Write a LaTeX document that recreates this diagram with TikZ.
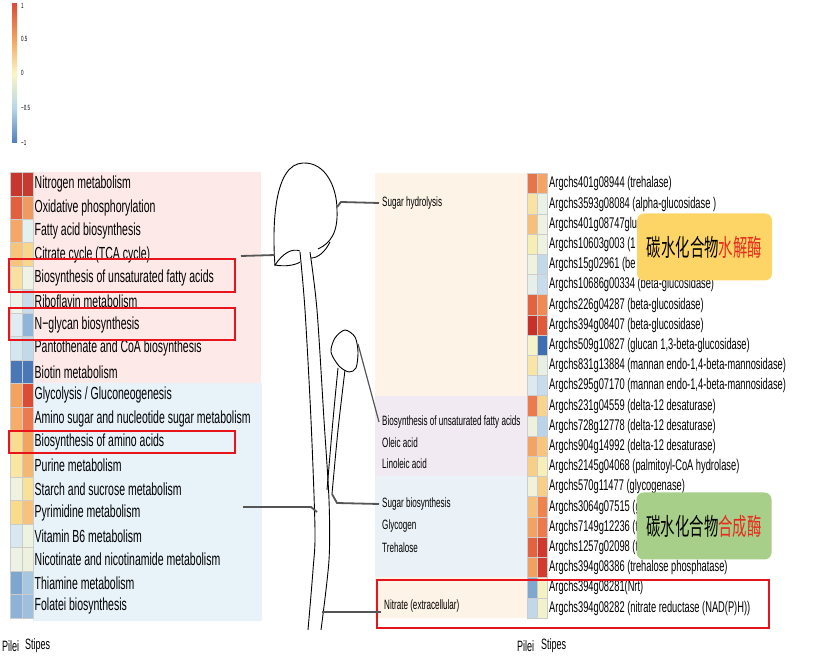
\documentclass[tikz,border=0pt]{standalone}
\usepackage{fontspec}
\setmainfont{Liberation Sans}[FakeStretch=0.6]
\newfontfamily\cjk{Noto Sans CJK SC}[FakeStretch=0.6]
\usetikzlibrary{calc}
\definecolor{bgpink}{HTML}{FDE9E8}
\definecolor{bgblue}{HTML}{E7F2F9}
\definecolor{bgpeach}{HTML}{FDF3E6}
\definecolor{bglav}{HTML}{F1EAF2}
\definecolor{bgsky}{HTML}{EAF2F7}
\definecolor{boxred}{HTML}{E8141C}
\definecolor{calred}{HTML}{E8291C}
\definecolor{calyel}{HTML}{FDD567}
\definecolor{calgrn}{HTML}{A8CF8A}
\definecolor{linkgray}{HTML}{555555}
\definecolor{lgA}{HTML}{4F7FBA}
\definecolor{lgB}{HTML}{B8D6E8}
\definecolor{lgC}{HTML}{FBF6C4}
\definecolor{lgD}{HTML}{F2A360}
\definecolor{lgE}{HTML}{D94C3C}
\pgfdeclareverticalshading{legbar}{100bp}{color(0bp)=(lgA); color(25bp)=(lgA); color(37.5bp)=(lgB); color(50bp)=(lgC); color(62.5bp)=(lgD); color(75bp)=(lgE); color(100bp)=(lgE)}
\tikzset{
  cell/.style={draw=black!20,line width=0.4pt},
  lablft/.style={anchor=west,inner sep=0pt,font=\fontsize{17.5}{17.5}\selectfont},
  labrgt/.style={anchor=west,inner sep=0pt,font=\fontsize{15.5}{15.5}\selectfont},
  pathlab/.style={anchor=west,inner sep=3pt,font=\fontsize{13.5}{13.5}\selectfont},
  ticklab/.style={anchor=west,inner sep=0pt,font=\fontsize{7.5}{7.5}\selectfont},
  collab/.style={anchor=west,inner sep=0pt,font=\fontsize{15}{15}\selectfont},
  redbox/.style={draw=boxred,line width=2.5pt},
  link/.style={draw=linkgray,line width=1.8pt},
  shroom/.style={draw=black,line width=0.9pt},
  callout/.style={rounded corners=7pt,minimum width=135pt,minimum height=67pt,inner sep=0pt,font=\cjk\fontsize{24}{24}\selectfont}
}
\begin{document}
\begin{tikzpicture}[x=1pt,y=-1pt]
            \useasboundingbox (0,0) rectangle (815,660);
            % colour key
            \shade[shading=legbar] (12,4) rectangle (17,143);
            \foreach \v/\yy [count=\k] in {1/6,0.5/39,0/73,−0.5/108,−1/143}
              \node[ticklab] (tk\k) at (21,\yy) {\v};
            % pathway panel
            \fill[bgpink] (33,172.3) rectangle (261,383.4);
            \fill[bgblue] (33,383.4) rectangle (262,621);
            \foreach \p/\s/\t [count=\i] in {
              C8372D/C63A2F/{Nitrogen metabolism},
              E0603F/F09A60/{Oxidative phosphorylation},
              F4A767/E4EFF0/{Fatty acid biosynthesis},
              F7C47A/F8D68E/{Citrate cycle (TCA cycle)},
              FAE0A0/EEF3E6/{Biosynthesis of unsaturated fatty acids},
              EEF4E8/C8DCEB/{Riboflavin metabolism},
              E0ECF2/8FB5D8/{N−glycan biosynthesis},
              D4E6F0/C2D9EA/{Pantothenate and CoA biosynthesis},
              4A78B6/4A78B6/{Biotin metabolism},
              F4A35E/DC4B35/{Glycolysis / Gluconeogenesis},
              F6AD6A/EC7A50/{Amino sugar and nucleotide sugar metabolism},
              F9DC90/F3A45E/{Biosynthesis of amino acids},
              F9E6A0/F5B872/{Purine metabolism},
              F0F2E0/F8E29A/{Starch and sucrose metabolism},
              F9DC8A/F6C27C/{Pyrimidine metabolism},
              D7E8F0/EEF2E0/{Vitamin B6 metabolism},
              EEF2E6/EDF1DD/{Nicotinate and nicotinamide metabolism},
              7EA7CF/A7C6E0/{Thiamine metabolism},
              8DB3D6/9FC0DD/{Folatei biosynthesis}}{
              \definecolor{cp}{HTML}{\p}\definecolor{cs}{HTML}{\s}
              \pgfmathsetmacro\yt{172.3+23.45*(\i-1)}
              \filldraw[cell,fill=cp] (10,\yt) rectangle ++(11.7,23.45);
              \filldraw[cell,fill=cs] (21.7,\yt) rectangle ++(11.6,23.45);
              \node[lablft] (pw\i) at (34.5,\yt+11.9) {\t};
            }
            \node[collab] (pilL) at (2,646) {Pilei};
            \node[collab] (stiL) at (25,646) {Stipes};
            \draw[redbox] (9,259) rectangle (235,292);
            \draw[redbox] (9,308) rectangle (235,340);
            \draw[redbox] (9,431) rectangle (235,453);
            % process panel
            \fill[bgpeach] (375,173.5) rectangle (527.5,395.7);
            \fill[bglav] (375,395.7) rectangle (527.5,476.5);
            \fill[bgsky] (375,476.5) rectangle (527.5,577.5);
            \fill[bgpeach] (375,577.5) rectangle (527.5,618);
            \node[pathlab] (hyd) at (379,203) {Sugar hydrolysis};
            \node[pathlab] (unsat) at (379,422) {Biosynthesis of unsaturated fatty acids};
            \node[pathlab] (olei) at (379,443) {Oleic acid};
            \node[pathlab] (lino) at (379,464) {Linoleic acid};
            \node[pathlab] (sbio) at (379,504) {Sugar biosynthesis};
            \node[pathlab] (glyc) at (379,526) {Glycogen};
            \node[pathlab] (treh) at (379,548) {Trehalose};
            \node[pathlab] (nitr) at (381,606) {Nitrate (extracellular)};
            % gene panel
            \foreach \p/\s/\t [count=\i] in {
              E8754A/F4A467/{Argchs401g08944 (trehalase)},
              F8E3A2/EAF1E6/{Argchs3593g08084 (alpha-glucosidase )},
              F6C07A/EEF2E2/{Argchs401g08747glu},
              F7EEB4/EEF2E0/{Argchs10603g003 (1},
              EEF2E0/C2D9EA/{Argchs15g02961 (be},
              E6EFEA/C8DCEB/{Argchs10686g00334 (beta-glucosidase)},
              E4633F/F08A55/{Argchs226g04287 (beta-glucosidase)},
              C8302A/E05A3C/{Argchs394g08407 (beta-glucosidase)},
              F5F3C8/3E6FB0/{Argchs509g10827 (glucan 1,3-beta-glucosidase)},
              F9E6A6/E8F0E6/{Argchs831g13884 (mannan endo-1,4-beta-mannosidase)},
              DBE9F0/C7DCEC/{Argchs295g07170 (mannan endo-1,4-beta-mannosidase)},
              ED7A4C/F8D58E/{Argchs231g04559 (delta-12 desaturase)},
              EEF2DC/B9D3E8/{Argchs728g12778 (delta-12 desaturase)},
              F4A363/F7C57C/{Argchs904g14992 (delta-12 desaturase)},
              F8CF86/F6F0B8/{Argchs2145g04068 (palmitoyl-CoA hydrolase)},
              F1F2D8/F7CF88/{Argchs570g11477 (glycogenase)},
              F7C07A/EE8350/{Argchs3064g07515 (g},
              F4A262/EC7A4E/{Argchs7149g12236 (t},
              E4623F/D0392E/{Argchs1257g02098 (t},
              F2A060/D23C2F/{Argchs394g08386 (trehalose phosphatase)},
              7EA8D0/F6F1C0/{Argchs394g08281(Nrt)},
              C0D8EA/F3F1CC/{Argchs394g08282 (nitrate reductase (NAD(P)H))}}{
              \definecolor{cp}{HTML}{\p}\definecolor{cs}{HTML}{\s}
              \pgfmathsetmacro\yt{173.5+20.2*(\i-1)}
              \filldraw[cell,fill=cp] (527.5,\yt) rectangle ++(10,20.2);
              \filldraw[cell,fill=cs] (537.5,\yt) rectangle ++(10,20.2);
              \node[labrgt] (gn\i) at (549,\yt+10.4) {\t};
            }
            \node[collab] (pilR) at (517,646) {Pilei};
            \node[collab] (stiR) at (541,646) {Stipes};
            \draw[redbox] (377,580) rectangle (769,628);
            \node[callout,fill=calyel] (hydbox) at (704.5,247) {碳水化合物\textcolor{calred}{水解酶}};
            \node[callout,fill=calgrn] (synbox) at (704,526) {碳水化合物\textcolor{calred}{合成酶}};
            % mushroom
            \draw[shroom] (275,266) .. controls (272,225) and (274,164) .. (303,163) .. controls (326,162) and (337,188) .. (337,210) .. controls (338,232) and (331,243) .. (318,249);
            \draw[shroom] (275,265) .. controls (283,253) and (292,248) .. (300,251) (275,265) .. controls (285,267) and (296,265) .. (300,262);
            \draw[shroom] (311,258) .. controls (318,258) and (325,252) .. (330,242);
            \draw[shroom] plot[smooth] coordinates {(300,252) (305,310) (311,420) (315,530) (313,570) (308,630)};
            \draw[shroom] plot[smooth] coordinates {(310,252) (317,310) (324,420) (329,500) (329,560) (321,630)};
            \draw[shroom] plot[smooth cycle] coordinates {(345,330) (355,337) (358,352) (356,368) (349,372) (339,366) (331,352) (335,338)};
            \draw[shroom] plot[smooth] coordinates {(338,368) (333,420) (327,490)};
            \draw[shroom] plot[smooth] coordinates {(345,370) (338,430) (332,494)};
            \coordinate (pinkL) at (241,256);
            \coordinate (capL) at (275,255);
            \coordinate (blueL) at (243,507);
            \coordinate (stemM) at (317,512);
            \coordinate (capR) at (337,207);
            \coordinate (smallR) at (358,344);
            \coordinate (smallS) at (332,494);
            \coordinate (stemB) at (322,612);
            \draw[link] (pinkL) -- (capL);
            \draw[link] (blueL) -- (311,507) -- (stemM);
            \draw[link] (capR) -- (341,202) -- (hyd.west);
            \draw[link,line width=1.2pt] (smallR) -- (unsat.west);
            \draw[link] (smallS) -- (337,503) -- (sbio.west);
            \draw[link] (stemB) -- ([yshift=-6pt]nitr.west);
\end{tikzpicture}
\end{document}
